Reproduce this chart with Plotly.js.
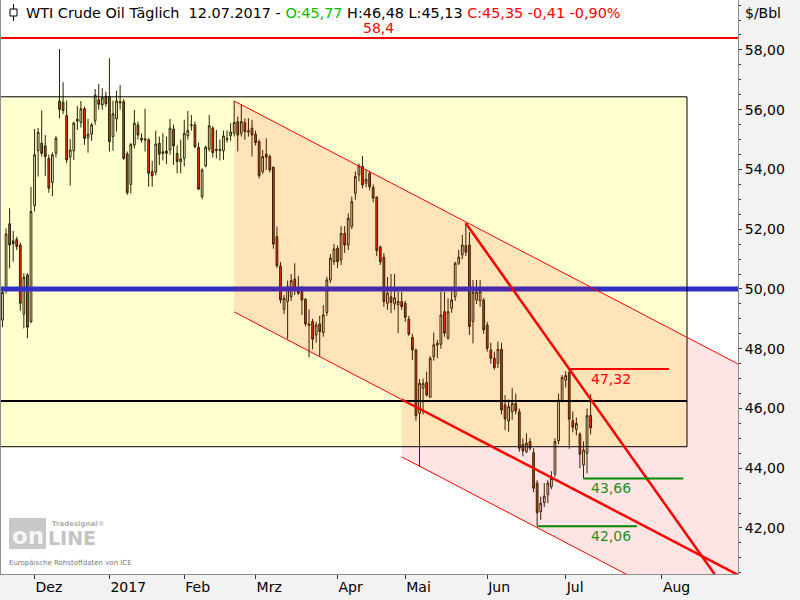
<!DOCTYPE html>
<html><head><meta charset="utf-8">
<script src="https://cdn.plot.ly/plotly-3.0.1.min.js"></script>
<style>html,body{margin:0;padding:0;background:#f2f2f2}#chart{width:800px;height:600px}</style>
</head><body><div id="chart"></div>
<script>
// ---- Daily candles (trading days) ----
const dates = [
'2016-11-18','2016-11-21','2016-11-22','2016-11-23','2016-11-24','2016-11-25','2016-11-28','2016-11-29','2016-11-30',
'2016-12-01','2016-12-02','2016-12-05','2016-12-06','2016-12-07','2016-12-08','2016-12-09','2016-12-12','2016-12-13','2016-12-14','2016-12-15','2016-12-16','2016-12-19','2016-12-20','2016-12-21','2016-12-22','2016-12-23','2016-12-27','2016-12-28','2016-12-29','2016-12-30',
'2017-01-03','2017-01-04','2017-01-05','2017-01-06','2017-01-09','2017-01-10','2017-01-11','2017-01-12','2017-01-13','2017-01-16','2017-01-17','2017-01-18','2017-01-19','2017-01-20','2017-01-23','2017-01-24','2017-01-25','2017-01-26','2017-01-27','2017-01-30','2017-01-31',
'2017-02-01','2017-02-02','2017-02-03','2017-02-06','2017-02-07','2017-02-08','2017-02-09','2017-02-10','2017-02-13','2017-02-14','2017-02-15','2017-02-16','2017-02-17','2017-02-20','2017-02-21','2017-02-22','2017-02-23','2017-02-24','2017-02-27','2017-02-28',
'2017-03-01','2017-03-02','2017-03-03','2017-03-06','2017-03-07','2017-03-08','2017-03-09','2017-03-10','2017-03-13','2017-03-14','2017-03-15','2017-03-16','2017-03-17','2017-03-20','2017-03-21','2017-03-22','2017-03-23','2017-03-24','2017-03-27','2017-03-28','2017-03-29','2017-03-30','2017-03-31',
'2017-04-03','2017-04-04','2017-04-05','2017-04-06','2017-04-07','2017-04-10','2017-04-11','2017-04-12','2017-04-13','2017-04-17','2017-04-18','2017-04-19','2017-04-20','2017-04-21','2017-04-24','2017-04-25','2017-04-26','2017-04-27','2017-04-28',
'2017-05-01','2017-05-02','2017-05-03','2017-05-04','2017-05-05','2017-05-08','2017-05-09','2017-05-10','2017-05-11','2017-05-12','2017-05-15','2017-05-16','2017-05-17','2017-05-18','2017-05-19','2017-05-22','2017-05-23','2017-05-24','2017-05-25','2017-05-26','2017-05-29','2017-05-30','2017-05-31',
'2017-06-01','2017-06-02','2017-06-05','2017-06-06','2017-06-07','2017-06-08','2017-06-09','2017-06-12','2017-06-13','2017-06-14','2017-06-15','2017-06-16','2017-06-19','2017-06-20','2017-06-21','2017-06-22','2017-06-23','2017-06-26','2017-06-27','2017-06-28','2017-06-29','2017-06-30',
'2017-07-03','2017-07-04','2017-07-05','2017-07-06','2017-07-07','2017-07-10','2017-07-11','2017-07-12'
];
const open = [
48.96,49.95,52.18,51.61,51.66,51.47,49.16,50.47,48.91,
52.79,54.63,54.88,54.79,54.37,53.56,54.54,56.29,56.25,55.80,54.41,54.62,55.62,55.57,56.03,55.06,55.18,55.63,56.33,56.16,56.45,
56.44,55.10,55.69,56.22,56.27,54.52,53.50,54.82,55.49,55.04,54.98,54.99,53.93,53.91,54.88,54.54,54.62,54.65,55.35,54.54,54.26,
54.37,55.13,55.47,55.49,54.74,53.09,54.12,54.68,55.38,54.63,54.67,54.63,55.04,55.13,55.21,55.60,55.21,55.57,55.25,55.38,
55.18,54.93,53.93,54.51,54.43,54.07,51.75,50.77,49.32,49.58,49.74,50.33,50.02,49.91,49.65,48.78,48.91,48.46,48.83,48.54,49.21,50.30,50.91,
51.36,50.97,51.86,51.47,52.09,53.20,53.82,54.10,53.54,53.87,53.40,53.07,51.40,51.06,49.52,49.74,49.50,49.47,49.58,
49.52,48.99,48.38,47.96,45.84,46.68,46.87,46.38,47.74,48.12,48.15,49.24,48.35,49.35,49.74,50.86,51.14,51.45,51.47,48.91,49.63,49.60,49.63,
48.79,47.96,47.68,47.51,47.98,46.12,45.58,45.89,46.17,45.89,44.80,44.55,44.89,44.52,43.50,42.55,42.85,43.11,43.38,43.81,44.92,46.26,
46.95,47.20,45.59,45.30,45.14,44.11,44.50,45.77
];
const high = [
50.00,52.03,52.70,51.94,51.75,51.55,50.53,50.53,53.42,
55.35,55.39,55.97,55.15,54.50,54.57,55.12,58.03,56.92,56.30,55.02,55.60,56.12,56.29,56.10,55.69,55.56,56.69,56.86,56.72,56.60,
57.72,56.30,56.63,56.83,56.35,54.60,54.88,55.99,55.60,55.20,56.03,55.05,54.29,55.30,55.10,55.21,55.10,55.69,55.50,54.80,55.00,
55.66,55.96,55.82,55.60,54.90,54.04,54.80,55.82,55.45,55.32,55.00,55.30,55.30,55.55,56.30,55.77,56.16,55.70,55.71,55.66,
55.30,55.00,54.65,55.04,54.50,54.10,52.09,50.90,49.80,50.28,50.50,50.86,50.44,50.10,49.70,49.32,49.00,48.90,49.10,49.46,50.41,51.17,51.50,
51.45,52.10,52.10,52.53,53.09,53.93,54.20,54.45,54.00,53.95,53.50,53.10,51.45,51.20,50.40,50.50,50.50,49.91,49.90,
49.60,49.10,48.50,48.00,46.98,47.00,47.23,47.75,48.54,48.30,49.91,49.90,49.69,49.91,50.91,51.31,51.81,52.20,51.90,50.30,50.30,50.30,49.70,
48.90,48.20,47.90,48.24,48.20,46.45,46.30,46.68,46.50,46.00,45.00,45.17,45.00,44.67,43.60,43.05,43.50,43.60,43.90,45.00,46.50,47.12,
47.25,47.32,45.90,45.70,45.20,44.90,46.00,46.48
];
const low = [
48.72,49.85,50.69,50.91,51.30,49.27,48.68,48.35,48.85,
52.59,53.76,54.43,53.78,53.22,53.11,54.40,55.71,55.85,54.21,53.46,54.32,55.32,55.40,54.82,54.56,54.96,55.49,56.00,56.00,56.10,
54.60,54.63,55.27,56.00,54.32,53.15,53.20,54.70,55.00,54.90,54.60,53.42,53.42,53.80,54.15,54.30,54.18,54.49,54.15,53.87,53.87,
54.10,55.00,55.30,54.71,53.31,53.00,54.07,54.60,54.40,54.37,54.30,54.32,54.90,54.96,55.10,54.60,55.10,54.99,55.10,54.43,
54.80,53.70,53.85,53.98,53.90,51.35,50.70,49.52,49.16,48.32,49.60,49.80,49.80,49.13,48.75,47.71,47.98,48.20,47.73,48.40,49.10,50.20,50.80,
50.70,50.80,51.20,51.30,52.00,52.98,53.60,53.37,53.40,53.30,52.90,51.10,50.80,49.40,49.30,49.19,49.30,48.52,49.30,
48.90,48.43,47.62,45.59,44.05,45.80,46.40,46.35,47.60,47.68,48.00,48.40,48.30,49.20,49.60,50.80,51.00,51.10,48.46,48.18,49.50,49.40,48.50,
47.90,47.50,47.30,47.35,45.80,45.28,45.22,45.62,45.80,44.55,44.40,44.50,44.60,43.20,42.06,42.27,42.70,42.83,43.30,43.70,44.80,46.20,
46.70,44.65,45.20,45.10,44.00,43.66,43.83,45.13
];
const close = [
49.88,51.84,51.47,51.51,51.42,49.52,50.39,48.72,52.59,
54.49,55.24,54.54,54.43,53.37,54.49,55.04,56.01,55.97,54.32,54.65,55.55,55.68,56.03,55.04,55.18,55.49,56.49,56.18,56.40,56.20,
54.93,55.86,56.29,56.27,54.37,53.22,54.84,55.55,55.15,54.99,55.02,53.87,53.78,54.85,54.51,54.59,54.54,55.38,54.79,54.26,54.35,
55.21,55.30,55.49,54.76,53.34,53.98,54.74,55.46,54.56,54.67,54.64,55.12,55.01,55.25,55.57,55.15,55.60,55.27,55.29,55.15,
54.90,53.79,54.43,54.41,53.98,51.50,50.78,49.63,49.69,50.08,50.28,49.97,49.86,49.63,48.83,48.83,48.32,48.79,48.57,49.13,50.30,51.03,51.34,
50.91,51.86,51.47,52.36,52.92,53.76,54.12,53.48,53.67,53.42,53.04,51.28,50.91,49.58,49.86,49.55,49.70,49.58,49.41,
49.05,48.49,47.96,45.76,46.84,46.84,46.45,47.68,48.13,48.18,49.13,48.52,49.24,49.63,50.86,51.06,51.47,51.23,48.74,49.89,49.89,49.91,48.63,
48.01,47.68,47.37,47.98,45.95,45.65,46.06,46.17,45.92,44.67,44.58,44.84,44.67,43.33,42.51,42.83,43.07,43.50,43.66,44.89,46.28,47.04,
47.10,45.64,45.37,45.50,44.47,44.61,45.76,45.35
];

// ---- Month ticks ----
const tickDates = ['2016-12-01','2017-01-03','2017-02-01','2017-03-01','2017-04-03','2017-05-01','2017-06-01','2017-07-03','2017-08-01'];
const tickLabels = ['Dez','2017','Feb','Mrz','Apr','Mai','Jun','Jul','Aug'];

// ---- Drawn objects (date, price) ----
const xStart = '2016-11-18 02:00';
const xEnd = '2017-08-22 20:24';
const boxEnd = '2017-08-08 13:00';
const boxRange = [44.72, 56.43];
const supportLine = 46.25;
const blueLevel = 50.0;
const topLevel = 58.4;
const channelTop = [['2017-02-21 12:00', 56.29], [xEnd, 47.49]];
const channelLow = [['2017-02-21 12:00', 49.23], ['2017-04-28 12:00', 46.30], [xEnd, 40.43]];
const channel2Low = [['2017-04-28 12:00', 44.38], [xEnd, 38.50]];
const trendLine = [['2017-05-24 12:00', 52.20], [xEnd, 39.35]];
const levelHigh = {x0: '2017-07-04 12:00', x1: '2017-08-03 12:00', y: 47.32};
const levelLow1 = {x0: '2017-07-10 12:00', x1: '2017-08-07 12:00', y: 43.66};
const levelLow2 = {x0: '2017-06-21 12:00', x1: '2017-07-25 12:00', y: 42.06};
const labelX = '2017-07-18 02:00';

// ---- Build ----
const have = new Set(dates);
const missing = [];
for (let t = Date.parse(dates[0] + 'T00:00:00Z'); t <= Date.parse(dates[dates.length - 1] + 'T00:00:00Z'); t += 864e5) {
  const s = new Date(t).toISOString().slice(0, 10);
  if (!have.has(s)) missing.push(s);
}
const xs = dates.map(d => d + ' 12:00');
const fmt = v => v.toFixed(2).replace('.', ',');
const P = (d, p) => d.replace(' ', '_') + ',' + p;
const px = x => (x - 1) / 737;
const py = y => (574 - y) / 574;

const n = dates.length - 1;
const chg = close[n] - close[n - 1];
const pct = chg / close[n - 1] * 100;
const dp = dates[n].split('-');
const titleText = 'WTI Crude Oil Täglich\u00a0\u00a0' + dp[2] + '.' + dp[1] + '.' + dp[0] + ' - ' +
  '<span style="color:#00c000">O:' + fmt(open[n]) + '</span> H:' + fmt(high[n]) + ' L:' + fmt(low[n]) + ' ' +
  '<span style="color:#ff0000">C:' + fmt(close[n]) + ' ' + fmt(chg) + ' ' + fmt(pct) + '%</span>';

const RED = '#ff0000', GREEN = '#008a00', PINK = 'rgba(255,0,0,0.105)';
const shapes = [
  {type:'rect', layer:'below', xref:'x', yref:'y', x0:'2016-11-01', x1:boxEnd, y0:boxRange[0], y1:boxRange[1], fillcolor:'#ffffd0', line:{width:0}},
  {type:'line', layer:'above', xref:'paper', yref:'y', x0:0, x1:1, y0:blueLevel, y1:blueLevel, line:{color:'#3030c4', width:5}},
  {type:'path', layer:'above', xref:'x', yref:'y', fillcolor:PINK, line:{width:0},
    path:'M' + P(channelTop[0][0], channelTop[0][1]) + ' L' + P(channelTop[1][0], channelTop[1][1]) + ' L' + P(channelLow[2][0], channelLow[2][1]) + ' L' + P(channelLow[0][0], channelLow[0][1]) + ' Z'},
  {type:'path', layer:'above', xref:'x', yref:'y', fillcolor:PINK, line:{width:0},
    path:'M' + P(channelLow[1][0], channelLow[1][1]) + ' L' + P(channelLow[2][0], channelLow[2][1]) + ' L' + P(channel2Low[1][0], channel2Low[1][1]) + ' L' + P(channel2Low[0][0], channel2Low[0][1]) + ' Z'},
  {type:'rect', layer:'above', xref:'x', yref:'y', x0:'2016-11-01', x1:boxEnd, y0:boxRange[0], y1:boxRange[1], fillcolor:'rgba(0,0,0,0)', line:{color:'#000', width:1}},
  {type:'line', layer:'above', xref:'x', yref:'y', x0:'2016-11-01', x1:boxEnd, y0:supportLine, y1:supportLine, line:{color:'#000', width:2}},
  {type:'line', layer:'above', xref:'paper', yref:'y', x0:0, x1:1, y0:topLevel, y1:topLevel, line:{color:RED, width:2}},
  {type:'line', layer:'above', xref:'x', yref:'y', x0:channelTop[0][0], y0:channelTop[0][1], x1:channelTop[1][0], y1:channelTop[1][1], line:{color:RED, width:1}},
  {type:'line', layer:'above', xref:'x', yref:'y', x0:channelLow[0][0], y0:channelLow[0][1], x1:channelLow[1][0], y1:channelLow[1][1], line:{color:RED, width:1}},
  {type:'line', layer:'above', xref:'x', yref:'y', x0:channelLow[1][0], y0:channelLow[1][1], x1:channelLow[2][0], y1:channelLow[2][1], line:{color:RED, width:2.5}},
  {type:'line', layer:'above', xref:'x', yref:'y', x0:channel2Low[0][0], y0:channel2Low[0][1], x1:channel2Low[1][0], y1:channel2Low[1][1], line:{color:RED, width:1}},
  {type:'line', layer:'above', xref:'x', yref:'y', x0:trendLine[0][0], y0:trendLine[0][1], x1:trendLine[1][0], y1:trendLine[1][1], line:{color:RED, width:2.5}},
  {type:'line', layer:'above', xref:'x', yref:'y', x0:levelHigh.x0, x1:levelHigh.x1, y0:levelHigh.y, y1:levelHigh.y, line:{color:RED, width:2}},
  {type:'line', layer:'above', xref:'x', yref:'y', x0:levelLow1.x0, x1:levelLow1.x1, y0:levelLow1.y, y1:levelLow1.y, line:{color:GREEN, width:2}},
  {type:'line', layer:'above', xref:'x', yref:'y', x0:levelLow2.x0, x1:levelLow2.x1, y0:levelLow2.y, y1:levelLow2.y, line:{color:GREEN, width:2}},
  // candle icon in header
  {type:'line', layer:'above', xref:'paper', yref:'paper', x0:px(13.5), x1:px(13.5), y0:py(4), y1:py(21), line:{color:'#000', width:1}},
  {type:'rect', layer:'above', xref:'paper', yref:'paper', x0:px(10), x1:px(17), y0:py(16), y1:py(9), fillcolor:'#fff', line:{color:'#000', width:1}},
  // logo box
  {type:'rect', layer:'above', xref:'paper', yref:'paper', x0:px(9), x1:px(46), y0:py(549), y1:py(518), fillcolor:'#c8c8c8', line:{width:0}}
];

const F = 'DejaVu Sans, Verdana, sans-serif';
const annotations = [
  {xref:'paper', yref:'paper', x:px(24), y:py(13), xanchor:'left', yanchor:'middle', showarrow:false, text:titleText, font:{family:F, size:14.4, color:'#000'}},
  {xref:'paper', yref:'paper', x:px(763), y:py(13), xanchor:'center', yanchor:'middle', showarrow:false, text:'$/Bbl', font:{family:F, size:14, color:'#000'}},
  {xref:'paper', yref:'y', x:px(378), y:topLevel, xanchor:'center', yanchor:'bottom', showarrow:false, text:String(topLevel).replace('.', ','), font:{family:F, size:14, color:RED}},
  {xref:'x', yref:'y', x:labelX, y:levelHigh.y, xanchor:'center', yanchor:'top', showarrow:false, text:fmt(levelHigh.y), font:{family:F, size:14, color:RED}},
  {xref:'x', yref:'y', x:labelX, y:levelLow1.y, xanchor:'center', yanchor:'top', showarrow:false, text:fmt(levelLow1.y), font:{family:F, size:14, color:'#1f8f1f'}},
  {xref:'x', yref:'y', x:labelX, y:levelLow2.y, xanchor:'center', yanchor:'top', showarrow:false, text:fmt(levelLow2.y), font:{family:F, size:14, color:'#1f8f1f'}},
  // logo
  {xref:'paper', yref:'paper', x:px(27.5), y:py(536), xanchor:'center', yanchor:'middle', showarrow:false, text:'<b>on</b>', font:{family:F, size:23, color:'#f6f6f6'}},
  {xref:'paper', yref:'paper', x:px(46), y:py(538), xanchor:'left', yanchor:'middle', showarrow:false, text:'<b>LINE</b>', font:{family:F, size:19, color:'#c4c4c4'}},
  {xref:'paper', yref:'paper', x:px(50), y:py(524), xanchor:'left', yanchor:'middle', showarrow:false, text:'<b>Tradesignal</b>®', font:{family:F, size:7, color:'#b0b0b0'}},
  {xref:'paper', yref:'paper', x:px(7), y:py(563), xanchor:'left', yanchor:'middle', showarrow:false, text:'Europäische Rohstoffdaten von ICE', font:{family:F, size:7, color:'#777'}}
];

const trace = {
  type:'candlestick', x:xs, open:open, high:high, low:low, close:close,
  increasing:{line:{color:'#2a2200', width:1}, fillcolor:'rgba(255,255,255,0)'},
  decreasing:{line:{color:'#2a2200', width:1}, fillcolor:'#ff3300'},
  whiskerwidth:0, hoverinfo:'skip', showlegend:false
};

const layout = {
  width:800, height:600,
  margin:{l:1, r:62, t:0, b:26, pad:0},
  paper_bgcolor:'#f2f2f2', plot_bgcolor:'#ffffff',
  separators:',.',
  showlegend:false,
  xaxis:{
    type:'date', range:[xStart, xEnd],
    rangebreaks:[{values:missing, dvalue:864e5}],
    rangeslider:{visible:false},
    showgrid:false, zeroline:false, showline:true, linecolor:'#8c8c8c', linewidth:1,
    ticks:'outside', ticklen:4, tickcolor:'#333',
    tickmode:'array', tickvals:tickDates.map(d => d + ' 12:00'), ticktext:tickLabels,
    ticklabelposition:'outside right',
    tickfont:{family:F, size:14, color:'#000'}, fixedrange:true
  },
  yaxis:{
    side:'right', range:[40.46, 59.67],
    showgrid:false, zeroline:false, showline:true, mirror:true, linecolor:'#8c8c8c', linewidth:1,
    ticks:'outside', ticklen:3, tickcolor:'#333', tick0:0, dtick:2, tickformat:'.2f',
    minor:{dtick:0.5, tick0:0, ticks:'outside', ticklen:2, tickcolor:'#333'},
    tickfont:{family:F, size:14, color:'#000'}, fixedrange:true
  },
  shapes:shapes, annotations:annotations
};

Plotly.newPlot('chart', [trace], layout, {displayModeBar:false, staticPlot:true});
</script>
</body></html>
